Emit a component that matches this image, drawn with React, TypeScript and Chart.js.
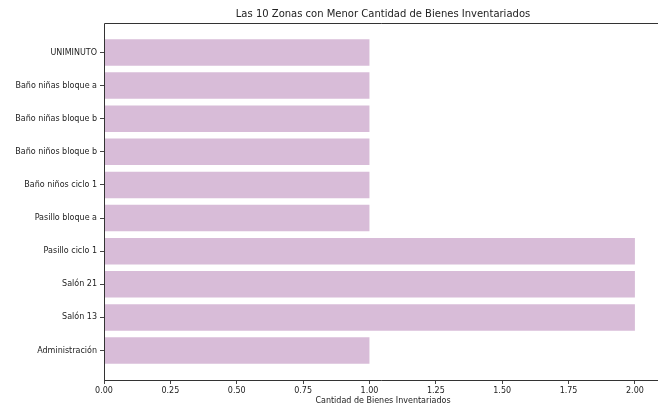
import React, { useEffect, useRef } from "react";
import { Chart, registerables } from "chart.js";

Chart.register(...registerables);

const categories = [
  "Administración",
  "Salón 13",
  "Salón 21",
  "Pasillo ciclo 1",
  "Pasillo bloque a",
  "Baño niños ciclo 1",
  "Baño niños bloque b",
  "Baño niñas bloque b",
  "Baño niñas bloque a",
  "UNIMINUTO",
];
const counts = [1, 2, 2, 2, 1, 1, 1, 1, 1, 1];
const xTickValues = [0, 0.25, 0.5, 0.75, 1, 1.25, 1.5, 1.75, 2];
const titleText = "Las 10 Zonas con Menor Cantidad de Bienes Inventariados";
const xLabelText = "Cantidad de Bienes Inventariados";

const FONT = "'DejaVu Sans', sans-serif";

export default function App() {
  const ref = useRef<HTMLCanvasElement | null>(null);
  useEffect(() => {
    if (!ref.current) return;
    const framePlugin = {
      id: "frame",
      afterDraw(chart: any) {
        const { ctx, chartArea } = chart;
        const l = Math.round(chartArea.left) + 0.5;
        const t = Math.round(chartArea.top) + 0.5;
        const b = Math.round(chartArea.bottom) + 0.5;
        const r = chartArea.right;
        ctx.save();
        ctx.strokeStyle = "#333";
        ctx.lineWidth = 1;
        ctx.beginPath();
        ctx.moveTo(r, t);
        ctx.lineTo(l, t);
        ctx.lineTo(l, b);
        ctx.lineTo(r, b);
        ctx.stroke();
        ctx.fillStyle = "#222";
        ctx.textAlign = "center";
        ctx.textBaseline = "middle";
        ctx.font = `10px ${FONT}`;
        ctx.fillText(titleText, 383, 14);
        ctx.font = `8px ${FONT}`;
        ctx.fillText(xLabelText, 383, 401);
        ctx.restore();
      },
    };
    const chart = new Chart(ref.current, {
      type: "bar",
      data: {
        datasets: [
          {
            data: counts.map((v, i) => ({ x: v, y: i })) as any,
            backgroundColor: "#d8bcd8",
            borderWidth: 0,
            categoryPercentage: 1,
            barPercentage: 0.8,
          },
        ],
      },
      options: {
        indexAxis: "y",
        animation: false,
        responsive: false,
        maintainAspectRatio: false,
        layout: { padding: { top: 23, right: 0, left: 0, bottom: 0 } },
        plugins: {
          legend: { display: false },
          title: { display: false },
          tooltip: { enabled: false },
        },
        scales: {
          x: {
            type: "linear",
            min: 0,
            max: 2.087,
            offset: false,
            afterBuildTicks: (s: any) => {
              s.ticks = xTickValues.map((v) => ({ value: v }));
            },
            afterFit: (s: any) => {
              s.height = 28;
            },
            grid: {
              offset: false,
              drawOnChartArea: false,
              drawTicks: true,
              tickLength: 4,
              color: "#444",
            },
            border: { display: false },
            ticks: {
              padding: 2,
              color: "#222",
              font: { family: FONT, size: 8 },
              maxRotation: 0,
              callback: (v: any) => Number(v).toFixed(2),
            },
          },
          y: {
            type: "linear",
            min: -0.89,
            max: 9.89,
            offset: false,
            afterBuildTicks: (s: any) => {
              s.ticks = categories.map((_, i) => ({ value: i }));
            },
            afterFit: (s: any) => {
              s.width = 104;
            },
            grid: {
              offset: false,
              drawOnChartArea: false,
              drawTicks: true,
              tickLength: 4,
              color: "#444",
            },
            border: { display: false },
            ticks: {
              padding: 3,
              color: "#222",
              font: { family: FONT, size: 8 },
              callback: (v: any) => categories[Math.round(Number(v))] ?? "",
            },
          },
        },
      },
      plugins: [framePlugin],
    } as any);
    return () => chart.destroy();
  }, []);
  return (
    <div style={{ position: "fixed", left: 0, top: 0, width: 658, height: 408, overflow: "hidden", background: "#fff" }}>
      <canvas ref={ref} width={658} height={408} style={{ width: 658, height: 408, display: "block" }} />
    </div>
  );
}
